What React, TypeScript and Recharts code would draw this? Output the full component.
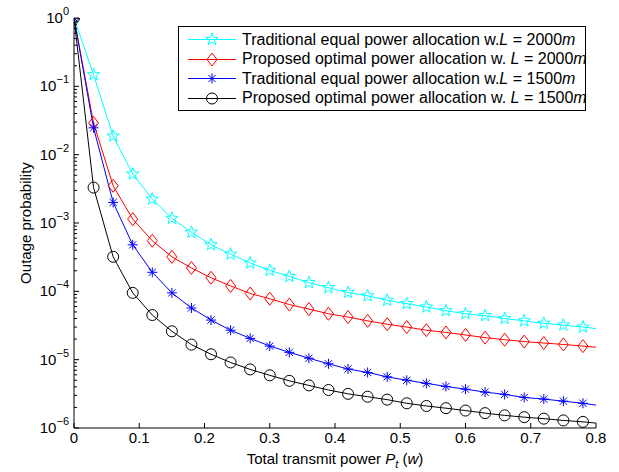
import React from "react";
import { LineChart, Line, XAxis, YAxis, Legend } from "recharts";

// transmit power (w), markers every 0.03, last point only closes the curve at 0.8
const POWER = [0, 0.03, 0.06, 0.09, 0.12, 0.15, 0.18, 0.21, 0.24, 0.27, 0.3, 0.33, 0.36, 0.39,
  0.42, 0.45, 0.48, 0.51, 0.54, 0.57, 0.6, 0.63, 0.66, 0.69, 0.72, 0.75, 0.78, 0.8];

const TRAD_2000 = [1, 0.148, 0.0187, 5.2e-3, 2.24e-3, 1.17e-3, 7.3e-4, 4.8e-4, 3.5e-4, 2.6e-4,
  2.03e-4, 1.65e-4, 1.34e-4, 1.13e-4, 9.6e-5, 8.6e-5, 7.4e-5, 6.6e-5, 5.9e-5, 5.2e-5, 4.7e-5,
  4.4e-5, 4.0e-5, 3.7e-5, 3.4e-5, 3.2e-5, 3.0e-5, 2.85e-5];
const PROP_2000 = [1, 0.029, 3.5e-3, 1.14e-3, 5.5e-4, 3.2e-4, 2.2e-4, 1.58e-4, 1.2e-4, 9.3e-5,
  7.8e-5, 6.4e-5, 5.5e-5, 4.7e-5, 4.2e-5, 3.7e-5, 3.3e-5, 3.0e-5, 2.7e-5, 2.5e-5, 2.3e-5,
  2.1e-5, 1.96e-5, 1.84e-5, 1.75e-5, 1.67e-5, 1.58e-5, 1.52e-5];
const TRAD_1500 = [1, 0.0247, 2.0e-3, 4.8e-4, 1.9e-4, 9.5e-5, 5.7e-5, 3.8e-5, 2.7e-5, 2.05e-5,
  1.58e-5, 1.28e-5, 1.05e-5, 8.7e-6, 7.3e-6, 6.5e-6, 5.6e-6, 5.0e-6, 4.5e-6, 4.06e-6, 3.7e-6,
  3.35e-6, 3.1e-6, 2.8e-6, 2.65e-6, 2.47e-6, 2.3e-6, 2.16e-6];
const PROP_1500 = [1, 3.3e-3, 3.2e-4, 9.5e-5, 4.5e-5, 2.6e-5, 1.66e-5, 1.2e-5, 9.1e-6, 7.2e-6,
  5.9e-6, 4.9e-6, 4.2e-6, 3.6e-6, 3.16e-6, 2.87e-6, 2.6e-6, 2.3e-6, 2.1e-6, 1.95e-6, 1.8e-6,
  1.65e-6, 1.53e-6, 1.44e-6, 1.37e-6, 1.29e-6, 1.23e-6, 1.18e-6];

const X_TICKS = [0, 0.1, 0.2, 0.3, 0.4, 0.5, 0.6, 0.7, 0.8];
const X_LABELS = ["0", "0.1", "0.2", "0.3", "0.4", "0.5", "0.6", "0.7", "0.8"];
const Y_DECADES = [1e-6, 1e-5, 1e-4, 1e-3, 1e-2, 1e-1, 1];
const Y_EXPONENTS = ["\u22126", "\u22125", "\u22124", "\u22123", "\u22122", "\u22121", "0"];
const MINOR_STEPS = [2, 3, 4, 5, 6, 7, 8, 9];

const FONT = 'Arial, "Liberation Sans", Helvetica, sans-serif';

const SERIES = [
  { key: "trad2000", color: "#00FFFF", shape: "star", text: "Traditional equal power allocation w.", L: "2000" },
  { key: "prop2000", color: "#FF0000", shape: "diamond", text: "Proposed optimal power allocation w. ", L: "2000" },
  { key: "trad1500", color: "#0000FF", shape: "asterisk", text: "Traditional equal power allocation w.", L: "1500" },
  { key: "prop1500", color: "#000000", shape: "circle", text: "Proposed optimal power allocation w. ", L: "1500" },
];

const data = POWER.map((p, i) => ({
  p,
  trad2000: TRAD_2000[i],
  prop2000: PROP_2000[i],
  trad1500: TRAD_1500[i],
  prop1500: PROP_1500[i],
}));

const yTicks = [
  ...Y_DECADES,
  ...Y_DECADES.slice(0, -1).flatMap((d) => MINOR_STEPS.map((k) => k * d)),
];

function Marker({ shape, cx, cy, color }: { shape: string; cx: number; cy: number; color: string }) {
  if (shape === "star") {
    const pts: string[] = [];
    for (let i = 0; i < 10; i++) {
      const r = i % 2 === 0 ? 6.5 : 2.7;
      const a = -Math.PI / 2 + (i * Math.PI) / 5;
      pts.push(`${cx + r * Math.cos(a)},${cy + r * Math.sin(a)}`);
    }
    return <polygon points={pts.join(" ")} fill="none" stroke={color} strokeWidth={1} />;
  }
  if (shape === "diamond") {
    return (
      <path
        d={`M${cx},${cy - 6.5}L${cx + 5},${cy}L${cx},${cy + 6.5}L${cx - 5},${cy}Z`}
        fill="none" stroke={color} strokeWidth={1}
      />
    );
  }
  if (shape === "asterisk") {
    const r = 5, d = 3.6;
    return (
      <g stroke={color} strokeWidth={1}>
        <line x1={cx - r} y1={cy} x2={cx + r} y2={cy} />
        <line x1={cx} y1={cy - r} x2={cx} y2={cy + r} />
        <line x1={cx - d} y1={cy - d} x2={cx + d} y2={cy + d} />
        <line x1={cx - d} y1={cy + d} x2={cx + d} y2={cy - d} />
      </g>
    );
  }
  return <circle cx={cx} cy={cy} r={5.5} fill="none" stroke={color} strokeWidth={1} />;
}

const makeDot = (shape: string, color: string) => (props: any) => {
  const { cx, cy, index } = props;
  if (index === POWER.length - 1 || cx == null || cy == null) return <g key={`d${index}`} />;
  return (
    <g key={`d${index}`}>
      <Marker shape={shape} cx={cx} cy={cy} color={color} />
    </g>
  );
};

function XTick(props: any) {
  const { x, y, payload, top } = props;
  if (top) return <line x1={x} x2={x} y1={y} y2={y + 5} stroke="#000" />;
  const i = X_TICKS.indexOf(payload.value);
  return (
    <g>
      <line x1={x} x2={x} y1={y} y2={y - 5} stroke="#000" />
      <text x={x} y={y + 15} textAnchor="middle" fontFamily={FONT} fontSize={15} fill="#000">
        {X_LABELS[i]}
      </text>
    </g>
  );
}

function YTick(props: any) {
  const { x, y, payload, right } = props;
  const i = Y_DECADES.indexOf(payload.value);
  const major = i >= 0;
  const len = major ? 5 : 3;
  if (right) return <line x1={x} x2={x - len} y1={y} y2={y} stroke="#000" />;
  return (
    <g>
      <line x1={x} x2={x + len} y1={y} y2={y} stroke="#000" />
      {major && (
        <text x={x - 5} y={y + 5} textAnchor="end" fontFamily={FONT} fontSize={15} fill="#000">
          10
          <tspan dy={-8} fontSize={11}>{Y_EXPONENTS[i]}</tspan>
        </text>
      )}
    </g>
  );
}

function LegendBox() {
  return (
    <div
      style={{
        border: "1px solid #000",
        background: "#fff",
        width: 406,
        padding: "3px 0 2px 0",
        fontFamily: FONT,
        fontSize: 16,
        color: "#000",
      }}
    >
      {SERIES.map((s) => (
        <div key={s.key} style={{ display: "flex", alignItems: "center", height: 19.5, whiteSpace: "pre" }}>
          <svg width={48} height={19} style={{ marginLeft: 9, marginRight: 6, flexShrink: 0 }}>
            <line x1={0} x2={48} y1={9.5} y2={9.5} stroke={s.color} strokeWidth={1} />
            <Marker shape={s.shape} cx={24} cy={9.5} color={s.color} />
          </svg>
          <span>
            {s.text}
            <i>L</i>
            {` = ${s.L}`}
            <i>m</i>
          </span>
        </div>
      ))}
    </div>
  );
}

export default function App() {
  return (
    <div style={{ position: "fixed", left: 0, top: 0, width: 619, height: 472, background: "#fff" }}>
      <LineChart width={619} height={472} data={data} margin={{ top: 18, right: 23, bottom: 0, left: 0 }}>
        <XAxis
          dataKey="p"
          type="number"
          domain={[0, 0.8]}
          allowDataOverflow
          ticks={X_TICKS}
          interval={0}
          height={44}
          tickSize={0}
          tickMargin={0}
          axisLine={{ stroke: "#000" }}
          tickLine={false}
          tick={<XTick />}
          label={{
            content: (p: any) => {
              const vb = p.viewBox;
              return (
                <text
                  x={vb.x + vb.width / 2}
                  y={vb.y + 35.5}
                  textAnchor="middle"
                  fontFamily={FONT}
                  fontSize={15}
                  fill="#000"
                >
                  Total transmit power <tspan fontStyle="italic">P</tspan>
                  <tspan fontStyle="italic" fontSize={11} dy={4}>t</tspan>
                  <tspan dy={-4}> (</tspan>
                  <tspan fontStyle="italic">w</tspan>)
                </text>
              );
            },
          }}
        />
        <XAxis
          xAxisId="top"
          orientation="top"
          type="number"
          domain={[0, 0.8]}
          allowDataOverflow
          ticks={X_TICKS}
          interval={0}
          height={0}
          tickSize={0}
          tickMargin={0}
          axisLine={{ stroke: "#000" }}
          tickLine={false}
          tick={<XTick top />}
        />
        <YAxis
          scale="log"
          type="number"
          domain={[1e-6, 1]}
          allowDataOverflow
          ticks={yTicks}
          interval={0}
          width={74}
          tickSize={0}
          tickMargin={0}
          axisLine={{ stroke: "#000" }}
          tickLine={false}
          tick={<YTick />}
          label={{
            content: (p: any) => {
              const vb = p.viewBox;
              const cx = vb.x + 31;
              const cy = vb.y + vb.height / 2;
              return (
                <text
                  x={cx}
                  y={cy}
                  transform={`rotate(-90, ${cx}, ${cy})`}
                  textAnchor="middle"
                  fontFamily={FONT}
                  fontSize={15}
                  fill="#000"
                >
                  Outage probability
                </text>
              );
            },
          }}
        />
        <YAxis
          yAxisId="right"
          orientation="right"
          scale="log"
          type="number"
          domain={[1e-6, 1]}
          allowDataOverflow
          ticks={yTicks}
          interval={0}
          width={0}
          tickSize={0}
          tickMargin={0}
          axisLine={{ stroke: "#000" }}
          tickLine={false}
          tick={<YTick right />}
        />
        {SERIES.map((s) => (
          <Line
            key={s.key}
            dataKey={s.key}
            stroke={s.color}
            strokeWidth={1}
            dot={makeDot(s.shape, s.color)}
            activeDot={false}
            isAnimationActive={false}
            type="linear"
          />
        ))}
        <Legend
          layout="vertical"
          align="center"
          verticalAlign="middle"
          wrapperStyle={{ top: 26, left: 178, width: 408, height: 83 }}
          content={() => <LegendBox />}
        />
      </LineChart>
    </div>
  );
}
